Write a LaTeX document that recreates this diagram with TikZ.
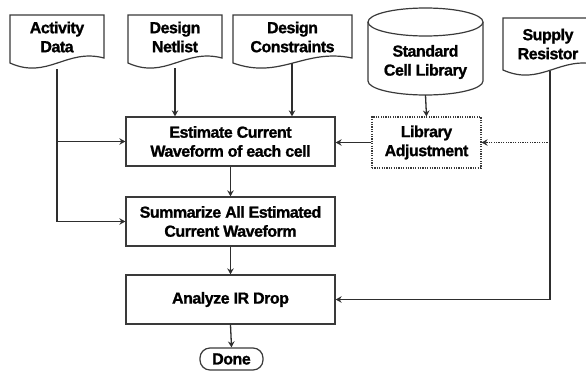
\documentclass[tikz,border=0pt]{standalone}
\usepackage{fontspec}
\setmainfont{Liberation Sans}[BoldFeatures={FakeBold=1.2, LetterSpace=-3}]
\usetikzlibrary{arrows.meta,calc}

\definecolor{inkline}{HTML}{2E2E2E}
\definecolor{boxline}{HTML}{3A3A3A}

% document symbol: flat top, wavy bottom (x1, x2, top, left bottom)
\newcommand\docsymbol[4]{%
  \filldraw[docline] ({#1},{#3}) -- ({#2},{#3}) -- ({#2},{#4-5})
    .. controls ({#1+0.6*(#2-#1)},{#4-15}) and ({#1+0.4*(#2-#1)},{#4+17}) .. ({#1},{#4}) -- cycle;%
}

\tikzset{
  label text/.style={font=\fontsize{16}{19}\selectfont\bfseries, align=center, inner sep=0pt, text=black},
  docline/.style={draw=boxline, fill=white, line width=1.2pt},
  stepbox/.style={label text, draw=boxline, fill=white, line width=1.3pt, minimum width=209pt, minimum height=49pt},
  adjbox/.style={label text, draw=boxline, fill=white, line width=1.1pt, dash pattern=on 1.2pt off 1.2pt, minimum width=109pt, minimum height=51pt},
  donebox/.style={label text, draw=boxline, fill=white, line width=1.2pt, rounded corners=10pt, minimum width=63pt, minimum height=22pt},
  arr/.style={draw=inkline, line width=1.3pt, -{Stealth[length=6pt,width=6.5pt,inset=2pt]}},
  dotarr/.style={arr, dash pattern=on 1.2pt off 1.2pt},
}

\begin{document}
\begin{tikzpicture}[x=1pt,y=-1pt]
\useasboundingbox (0,0) rectangle (586,370);
\fill[white] (0,0) rectangle (586,370);
\begin{scope}
\clip (0,0) rectangle (586,370);

% input documents
\docsymbol{10}{104}{15}{63}
\node[label text] (act) at (57,37) {Activity\\Data};
\coordinate (actout) at (57,69);

\docsymbol{128}{222}{15}{63}
\node[label text] (net) at (175,37) {Design\\Netlist};
\coordinate (netout) at (175,68);

\docsymbol{233}{352}{15}{63}
\node[label text] (con) at (292.5,37) {Design\\Constraints};
\coordinate (conout) at (292,63);

\docsymbol{503}{598}{18}{70}
\node[label text] (sup) at (548,44) {Supply\\Resistor};
\coordinate (supout) at (550,71);

% standard cell library (cylinder)
\node[minimum width=115pt, minimum height=87pt, inner sep=0pt] (lib) at (425.5,51.5) {};
\filldraw[docline] (368,22) -- (368,81) arc[start angle=180, end angle=360, x radius=57.5pt, y radius=14pt] -- (483,22);
\filldraw[docline] (425.5,22) ellipse [x radius=57.5pt, y radius=14pt];
\node[label text] (libtext) at (425.5,62) {Standard\\Cell Library};

% process steps
\node[stepbox] (est) at (230.5,141.5) {Estimate Current\\Waveform of each cell};
\node[stepbox] (sum) at (230.5,221.5) {Summarize All Estimated\\Current Waveform};
\node[stepbox] (ana) at (230.5,299.5) {Analyze IR Drop};
\node[adjbox] (adj) at (426.5,142.5) {Library\\Adjustment};
\node[donebox] (done) at (231.5,359) {Done};

% connectors
\draw[arr] (actout) |- (sum.west);
\draw[arr] (actout |- est.west) -- (est.west);
\draw[arr] (netout) -- (netout |- est.north);
\draw[arr] (conout) -- (conout |- est.north);
\draw[arr] (lib.south) -- (adj.north);
\draw[arr] (adj.west) -- (adj.west -| est.east);
\draw[dotarr] (supout |- adj.east) -- (adj.east);
\draw[arr] (supout) |- (ana.east);
\draw[arr] (est.south) -- (sum.north);
\draw[arr] (sum.south) -- (ana.north);
\draw[arr] (ana.south) -- (done.north);
\end{scope}
\end{tikzpicture}
\end{document}
